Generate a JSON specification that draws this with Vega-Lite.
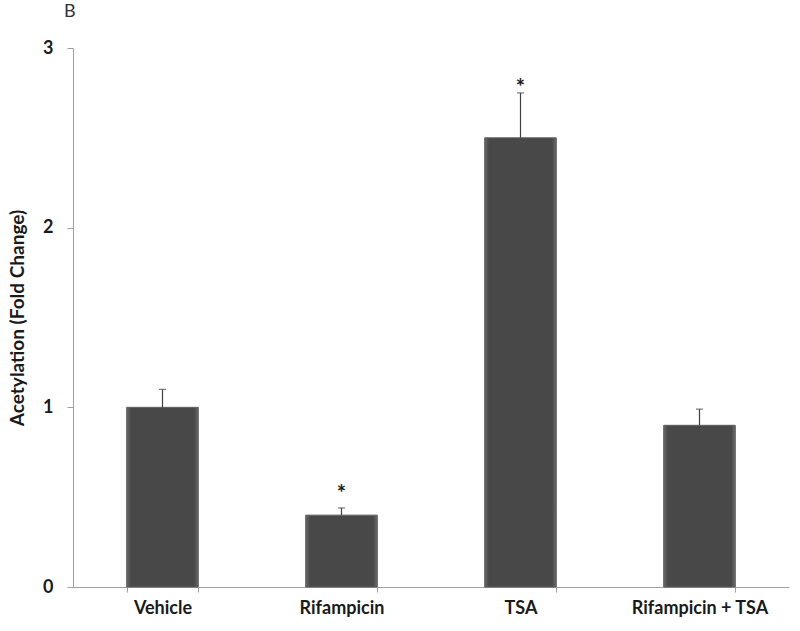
{
  "$schema": "https://vega.github.io/schema/vega-lite/v6.json",
  "width": 716,
  "height": 539,
  "autosize": {"type": "none"},
  "padding": {"left": 73, "top": 48, "right": 11, "bottom": 44},
  "background": "white",
  "title": {"text": "B", "anchor": "start", "frame": "group", "dx": -9, "offset": 18, "fontSize": 18, "fontWeight": "normal", "font": "Lato", "color": "#333333"},
  "config": {"view": {"stroke": null}, "font": "Lato"},
  "data": {
    "values": [
      {"group": "Vehicle", "mean": 1.0, "upper": 1.10, "star_y": null},
      {"group": "Rifampicin", "mean": 0.40, "upper": 0.44, "star_y": 0.54},
      {"group": "TSA", "mean": 2.50, "upper": 2.75, "star_y": 2.80},
      {"group": "Rifampicin + TSA", "mean": 0.90, "upper": 0.99, "star_y": null}
    ]
  },
  "encoding": {
    "x": {
      "field": "group", "type": "nominal", "sort": null,
      "scale": {"paddingInner": 0.6, "paddingOuter": 0.3},
      "axis": {"title": null, "labelAngle": 0, "labelFontSize": 18, "labelFontWeight": "bold", "labelColor": "#1a1a1a", "domainColor": "#a0a0a0", "tickColor": "#a0a0a0", "tickSize": 5, "tickBand": "extent", "labelPadding": 7}
    }
  },
  "layer": [
    {
      "mark": {
        "type": "bar",
        "stroke": "#5e5e5e",
        "strokeWidth": 1,
        "color": {
          "gradient": "linear", "x1": 0, "x2": 1, "y1": 0, "y2": 0,
          "stops": [
            {"offset": 0, "color": "#6a6a6a"},
            {"offset": 0.06, "color": "#484848"},
            {"offset": 0.94, "color": "#484848"},
            {"offset": 1, "color": "#6a6a6a"}
          ]
        }
      },
      "encoding": {
        "y": {
          "field": "mean", "type": "quantitative",
          "scale": {"domain": [0, 3], "nice": false},
          "axis": {"values": [0, 1, 2, 3], "format": "d", "grid": false, "title": "Acetylation (Fold Change)", "titleFontSize": 19, "titleFontWeight": "bold", "titleColor": "#1a1a1a", "titlePadding": 15, "labelFontSize": 18, "labelFontWeight": "bold", "labelColor": "#1a1a1a", "labelPadding": 14, "tickSize": 6, "domainColor": "#a0a0a0", "tickColor": "#a0a0a0"}
        }
      }
    },
    {
      "mark": {"type": "rule", "color": "#404040", "strokeWidth": 1.2},
      "encoding": {"y": {"field": "mean", "type": "quantitative"}, "y2": {"field": "upper"}}
    },
    {
      "mark": {"type": "tick", "color": "#404040", "size": 7, "thickness": 1.2},
      "encoding": {"y": {"field": "upper", "type": "quantitative"}}
    },
    {
      "transform": [{"filter": "datum.star_y != null"}],
      "mark": {"type": "text", "text": "*", "fontSize": 22, "fontWeight": "bold", "color": "#1a1a1a", "baseline": "middle", "dy": 4},
      "encoding": {"y": {"field": "star_y", "type": "quantitative"}}
    }
  ]
}
